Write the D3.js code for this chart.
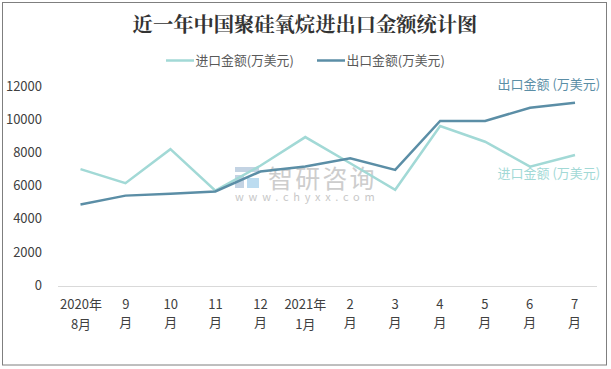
<!DOCTYPE html>
<html>
<head>
<meta charset="utf-8">
<script src="https://cdn.jsdelivr.net/npm/d3@7"></script>
<style>
html, body { margin: 0; padding: 0; background: #fff; }
svg { display: block; }
text { font-family: "Noto Sans CJK SC", "Liberation Sans", sans-serif; }
</style>
</head>
<body>
<svg id="chart" width="611" height="369"></svg>
<script>
let months = ["2020年|8月", "9|月", "10|月", "11|月", "12|月", "2021年|1月", "2|月", "3|月", "4|月", "5|月", "6|月", "7|月"];
let importValues = [7050, 6200, 8250, 5750, 7250, 8980, 7400, 5800, 9650, 8700, 7200, 7900];
let exportValues = [4920, 5450, 5570, 5700, 6900, 7200, 7700, 7000, 9950, 9950, 10750, 11050];
let yTicks = [0, 2000, 4000, 6000, 8000, 10000, 12000];

let importColor = "#a2d9d6";
let exportColor = "#5b8ea6";

let svg = d3.select("#chart");

svg.append("rect")
	.attr("x", 2.5).attr("y", 2.5)
	.attr("width", 604).attr("height", 362.5)
	.attr("fill", "#fff").attr("stroke", "#7f7f7f");

svg.append("text")
	.attr("x", 305).attr("y", 32)
	.attr("text-anchor", "middle")
	.attr("font-size", 20.3)
	.attr("font-weight", "bold")
	.style("font-family", '"Noto Serif CJK SC", "Noto Sans CJK SC", serif')
	.attr("fill", "#333")
	.text("近一年中国聚硅氧烷进出口金额统计图");

let xScale = d3.scalePoint().domain(months).range([80.5, 575]);
let labelScale = d3.scalePoint().domain(months).range([81, 574.5]);
let yScale = d3.scaleLinear().domain([0, 12000]).range([286, 87]);

// watermark
let mark = svg.append("g");
mark.append("rect").attr("x", 235).attr("y", 167).attr("width", 24).attr("height", 5).attr("fill", "#c3d3e3");
mark.append("rect").attr("x", 235).attr("y", 175).attr("width", 9).attr("height", 13).attr("fill", "#c3d3e3");
mark.append("rect").attr("x", 247).attr("y", 178).attr("width", 12).attr("height", 10).attr("fill", "#bcdcf0");
mark.append("text").attr("x", 268).attr("y", 188).attr("font-size", 25).attr("letter-spacing", 2.2).attr("fill", "#cdcdcd").text("智研咨询");
mark.append("text").attr("x", 235).attr("y", 200.5).attr("font-size", 11).attr("letter-spacing", 4.75).attr("fill", "#c8c8c8").text("www.chyxx.com");

// axes
let yAxis = d3.axisLeft(yScale).tickValues(yTicks).tickSize(0).tickPadding(0).tickFormat(d => d);
let yG = svg.append("g").attr("transform", "translate(42,-1)").call(yAxis);
yG.select(".domain").remove();
yG.selectAll("text").attr("font-size", 13).attr("fill", "#404040");

let xAxis = d3.axisBottom(xScale).tickSize(0).tickFormat("");
let xG = svg.append("g").attr("transform", "translate(0,286.5)").call(xAxis);
xG.select(".domain").attr("d", "M58,0H597").attr("stroke", "#d9d9d9");

let labels = svg.append("g").selectAll("text").data(months).enter().append("text")
	.attr("text-anchor", "middle")
	.attr("font-size", 13)
	.attr("fill", "#404040");
labels.append("tspan")
	.attr("x", d => labelScale(d))
	.attr("y", 309)
	.text(d => d.split("|")[0]);
labels.append("tspan")
	.attr("x", d => labelScale(d))
	.attr("y", d => d.includes("年") ? 329 : 327)
	.text(d => d.split("|")[1]);

// lines
let line = d3.line()
	.x((d, i) => xScale(months[i]))
	.y(d => yScale(d));

svg.append("path").datum(importValues)
	.attr("d", line).attr("fill", "none")
	.attr("stroke", importColor).attr("stroke-width", 2.5);
svg.append("path").datum(exportValues)
	.attr("d", line).attr("fill", "none")
	.attr("stroke", exportColor).attr("stroke-width", 2.5);

// legend
let legendItems = [
	{ name: "进口金额(万美元)", color: importColor, x: 166 },
	{ name: "出口金额(万美元)", color: exportColor, x: 317 }
];
legendItems.forEach(item => {
	svg.append("line")
		.attr("x1", item.x).attr("x2", item.x + 28)
		.attr("y1", 60.5).attr("y2", 60.5)
		.attr("stroke", item.color).attr("stroke-width", 2.5);
	svg.append("text")
		.attr("x", item.x + 29.5).attr("y", 65)
		.attr("font-size", 12.8)
		.attr("fill", "#595959")
		.text(item.name);
});

// end labels
svg.append("text").attr("x", 497.5).attr("y", 89).attr("font-size", 13).attr("fill", exportColor).text("出口金额 (万美元)");
svg.append("text").attr("x", 497.5).attr("y", 178).attr("font-size", 13).attr("fill", importColor).text("进口金额 (万美元)");
</script>
</body>
</html>
